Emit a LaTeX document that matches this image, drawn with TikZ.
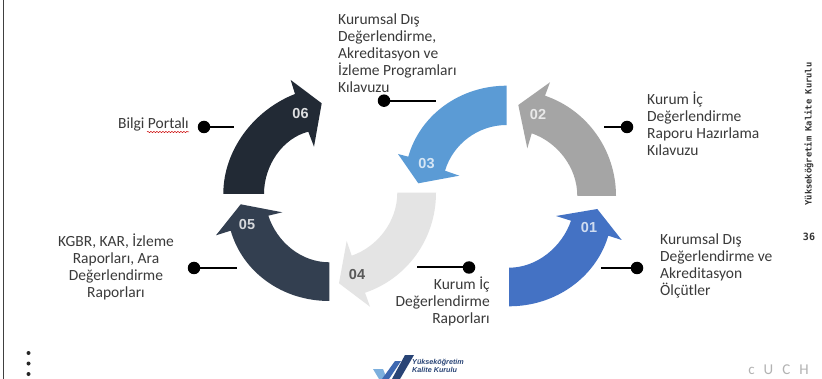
\documentclass[tikz,border=0pt]{standalone}
\usepackage{fontspec}
\setmainfont{Carlito}
\newfontfamily\monof{DejaVu Sans Mono}
\newfontfamily\headf{Liberation Sans}
\usetikzlibrary{decorations.pathmorphing}
\definecolor{cA}{HTML}{4472C4}
\definecolor{cB}{HTML}{A5A5A5}
\definecolor{cC}{HTML}{5B9BD5}
\definecolor{cD}{HTML}{E4E4E4}
\definecolor{cE}{HTML}{333F50}
\definecolor{cF}{HTML}{222A35}
\definecolor{txt}{HTML}{3A3A3A}
\tikzset{
  num/.style={font=\headf\bfseries\fontsize{14.5}{14.5}\selectfont,inner sep=0pt},
  lab/.style={font=\fontsize{15.5}{17}\selectfont,text=txt,inner sep=0pt},
  pin/.style={circle,fill=black,inner sep=0pt,minimum size=12.5pt},
  lead/.style={line width=2pt,black},
  smalldot/.style={circle,fill=black!85,inner sep=0pt,minimum size=4pt},
}
\begin{document}
\begin{tikzpicture}[x=1pt,y=-1pt]
\useasboundingbox (0,0) rectangle (822,379);
\fill[white] (0,0) rectangle (822,379);
\draw[line width=1.4pt,black!75] (3.7,0) -- (3.7,379);
% arrows
\fill[cF] (223.3,194) .. controls (223.3,150) and (254,110) .. (295,94) -- (290.7,80) -- (321.7,103.3) -- (314,146.7) -- (308.3,131.7) .. controls (283,138) and (264,165) .. (264,194) -- cycle;
\fill[cE] (329.3,301) .. controls (283,301) and (243,273) .. (230.7,230.7) -- (216,235.3) -- (240.7,204.3) -- (282.3,212.3) -- (268.3,215.7) .. controls (277,242) and (301,262.3) .. (329.3,262.3) -- cycle;
\fill[cD] (436,192.7) .. controls (436,240) and (406,279) .. (365,292.7) -- (370,306.7) -- (339,283.3) -- (346.7,241) -- (351.7,255.7) .. controls (377,247) and (397.3,222) .. (397.3,192.7) -- cycle;
\fill[cC] (506.7,85.7) .. controls (460,85.7) and (420,115) .. (408.3,156.7) -- (398,154) -- (418.3,183.3) -- (459.3,175.7) -- (445,170.7) .. controls (453,144) and (478,125) .. (506.7,125) -- cycle;
\fill[cB] (616,196) .. controls (616,150) and (587,110) .. (545,95.7) -- (550,82.3) -- (518.3,105) -- (527.3,148.3) -- (531.7,133.3) .. controls (557,142) and (577.3,167) .. (577.3,196) -- cycle;
\fill[cA] (509,306.3) .. controls (556,306.3) and (596,277) .. (608.3,235.7) -- (621.7,240) -- (597.3,209) -- (556,216) -- (571,220.7) .. controls (562,247) and (537,267.7) .. (509,267.7) -- cycle;
% numbers
\node[num,text=white!85!cF] (n6) at (300.5,113.5) {06};
\node[num,text=white!80!cE] (n5) at (247,225) {05};
\node[num,text=black!65] (n4) at (357,275) {04};
\node[num,text=white!75!cC] (n3) at (426.5,163.5) {03};
\node[num,text=white!75!cB] (n2) at (538,114.5) {02};
\node[num,text=white!75!cA] (n1) at (589,227.5) {01};
% leaders
\node[pin] (p6) at (204,127) {}; \coordinate (e6) at (234,127);
\node[pin] (p3) at (384,100.7) {}; \coordinate (e3) at (436,100.7);
\node[pin] (p2) at (627,127) {}; \coordinate (e2) at (604,127);
\node[pin] (p1) at (637,268) {}; \coordinate (e1) at (601,268);
\node[pin] (p4) at (469,267.5) {}; \coordinate (e4) at (417,267.5);
\node[pin] (p5) at (194,268) {}; \coordinate (e5) at (237,268);
\foreach \k in {1,...,6} \draw[lead] (p\k) -- (e\k);
% labels
\node[lab,anchor=north west,align=left] (t3) at (338,14) {Kurumsal Dış\\Değerlendirme,\\Akreditasyon ve\\İzleme Programları\\Kılavuzu};
\node[lab,anchor=east] (t6) at (189,124) {Bilgi Portalı};
\draw[red!80!black,line width=.5pt,decorate,decoration={snake,amplitude=.6pt,segment length=3pt}] (147,132) -- (189,132);
\node[lab,anchor=north west,align=left] (t2) at (647,92) {Kurum İç\\Değerlendirme\\Raporu Hazırlama\\Kılavuzu};
\node[lab,anchor=north west,align=left] (t1) at (660,234) {Kurumsal Dış\\Değerlendirme ve\\Akreditasyon\\Ölçütler};
\node[lab,anchor=north east,align=right] (t4) at (490,277) {Kurum İç\\Değerlendirme\\Raporları};
\node[lab,anchor=north,align=center] (t5) at (116,234) {KGBR, KAR, İzleme\\Raporları, Ara\\Değerlendirme\\Raporları};
% side
\node[rotate=90,font=\monof\bfseries\fontsize{8.8}{9}\selectfont,inner sep=0pt,text=black!80] (side) at (809,134) {Yükseköğretim Kalite Kurulu};
\node[font=\monof\bfseries\fontsize{10}{10}\selectfont,inner sep=0pt,text=black!80] (pg) at (809,237) {36};
\node[font=\fontsize{15}{15}\selectfont,text=black!30,inner sep=0pt] (cuch) at (778.5,370) {c\hspace{9pt}U\hspace{9pt}C\hspace{9pt}H};
% dots
\node[smalldot] (d1) at (28.5,353) {};
\node[smalldot] (d2) at (28.5,363.5) {};
\node[smalldot] (d3) at (28.5,374) {};
% logo
\fill[cC!80!white] (373,369) -- (383,369) -- (387,379) -- (379,379) -- cycle;
\fill[cA!90!black] (382,379) -- (395,361) -- (401,361) -- (389,379) -- cycle;
\fill[cA!60!black] (392,379) -- (405,355) -- (414,355) -- (400,379) -- cycle;
\node[font=\headf\bfseries\itshape\fontsize{7.2}{8.2}\selectfont,text=cA!60!black,align=left,anchor=west,inner sep=0pt] (logo) at (412,366) {Yükseköğretim\\Kalite Kurulu};
\end{tikzpicture}
\end{document}
